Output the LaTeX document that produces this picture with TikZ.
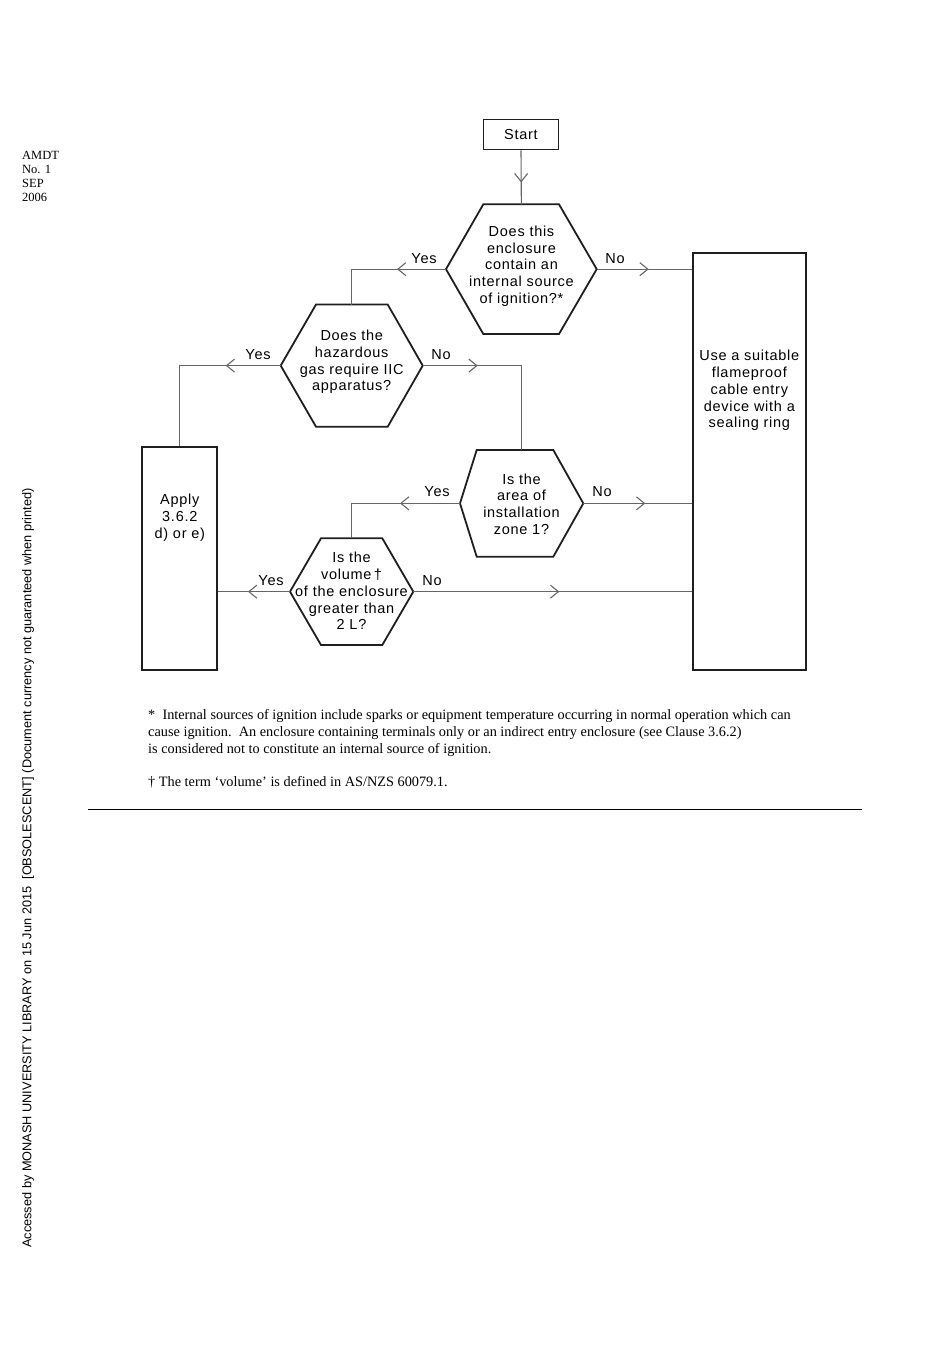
\documentclass[tikz,border=0pt]{standalone}
\usepackage{fontspec}
\setmainfont{Liberation Serif}
\newfontfamily\diagfont[LetterSpace=5]{Liberation Sans}
\newfontfamily\sidefont{Liberation Sans}
\usetikzlibrary{arrows.meta,decorations.markings}

\newcommand\hexshape[7]{%
  \coordinate (#1-w) at (#2,{(#6+#7)/2});
  \coordinate (#1-e) at (#5,{(#6+#7)/2});
  \coordinate (#1-n) at ({(#2+#5)/2},#6);
  \coordinate (#1-s) at ({(#2+#5)/2},#7);
  \draw[shapeline] (#1-w) -- (#3,#6) -- (#4,#6) -- (#1-e) -- (#4,#7) -- (#3,#7) -- cycle;
}

\tikzset{
  shapeline/.style={draw=black!88, line width=1.8pt, line join=miter},
  conn/.style={draw=black!60, line width=1.1pt},
  arrowmark/.style={postaction={decorate}, decoration={markings,
      mark=at position #1 with {\arrow[black!60, line width=1.1pt]{Straight Barb[length=8pt,width=13pt]}}}},
  dtext/.style={align=center, inner sep=0pt, font=\diagfont\fontsize{14.5}{16.75}\selectfont},
  lbl/.style={inner sep=0pt, font=\diagfont\fontsize{14.5}{16.75}\selectfont},
  fnote/.style={inner sep=0pt, anchor=base west, font=\fontsize{14.3}{17}\selectfont},
}

\begin{document}
\begin{tikzpicture}[x=1pt,y=-1pt]
\useasboundingbox (0,0) rectangle (950,1345);

% margin notes
\node[inner sep=0pt, anchor=base west, font=\fontsize{12.5}{14}\selectfont] (amdt1) at (22,159) {AMDT};
\node[inner sep=0pt, anchor=base west, font=\fontsize{12.5}{14}\selectfont] (amdt2) at (22,173) {No. 1};
\node[inner sep=0pt, anchor=base west, font=\fontsize{12.5}{14}\selectfont] (amdt3) at (22,187) {SEP};
\node[inner sep=0pt, anchor=base west, font=\fontsize{12.5}{14}\selectfont] (amdt4) at (22,201) {2006};

\node[rotate=90, inner sep=0pt, font=\sidefont\fontsize{12.75}{14}\selectfont] (side) at (28,868)
  {Accessed by MONASH UNIVERSITY LIBRARY on 15 Jun 2015\ \ [OBSOLESCENT] (Document currency not guaranteed when printed)};

% boxes
\node[shapeline, minimum width=75, minimum height=30, inner sep=0pt] (start) at (521,134.5) {};
\node[dtext] (starttext) at (521,134.5) {Start};
\node[shapeline, minimum width=113.3, minimum height=416.8, inner sep=0pt] (rbox) at (749.3,461.3) {};
\node[dtext] (rboxtext) at (749.3,390.5) {Use a suitable\\flameproof\\cable entry\\device with a\\sealing ring};
\node[shapeline, minimum width=75, minimum height=222.7, inner sep=0pt] (apply) at (179.8,558.6) {};
\node[dtext] (applytext) at (179.8,517.5) {Apply\\3.6.2\\d) or e)};

% hexagons
\hexshape{h1}{446}{483.3}{559}{596.7}{204.3}{334}
\node[dtext] (h1text) at (521.5,266) {Does this\\enclosure\\contain an\\internal source\\of ignition?*};
\hexshape{h2}{280.7}{316}{387.7}{422.7}{304.5}{426.7}
\node[dtext] (h2text) at (351.7,362) {Does the\\hazardous\\gas require IIC\\apparatus?};
\hexshape{h3}{460}{476.7}{553.3}{583.3}{450}{556.7}
\node[dtext] (h3text) at (521.5,504) {Is the\\area of\\installation\\zone 1?};
\hexshape{h4}{290}{321}{382.3}{413.3}{538.3}{645}
\node[dtext] (h4text) at (351.5,591) {Is the\\volume\,†\\of the enclosure\\greater than\\2 L?};

% connectors
\draw[conn, arrowmark=32pt] (start.south) -- (h1-n);
\draw[conn, arrowmark=49pt] (h1-w) -| (h2-n);
\draw[conn, arrowmark=52pt] (h1-e) -- (h1-e -| rbox.west);
\draw[conn, arrowmark=55pt] (h2-w) -| (apply.north);
\draw[conn, arrowmark=55pt] (h2-e) -| (h3-n);
\draw[conn, arrowmark=60pt] (h3-w) -| (h4-n);
\draw[conn, arrowmark=62pt] (h3-e) -- (h3-e -| rbox.west);
\draw[conn, arrowmark=42pt] (h4-w) -- (h4-w -| apply.east);
\draw[conn, arrowmark=146pt] (h4-e) -- (h4-e -| rbox.west);

% branch labels
\node[lbl] (y1) at (424,259) {Yes};
\node[lbl] (n1) at (615,259) {No};
\node[lbl] (y2) at (258,355) {Yes};
\node[lbl] (n2) at (441,355) {No};
\node[lbl] (y3) at (437,492) {Yes};
\node[lbl] (n3) at (602,492) {No};
\node[lbl] (y4) at (271,581) {Yes};
\node[lbl] (n4) at (432,581) {No};

% footnotes
\node[fnote] (fn1) at (148,719) {*\ \ Internal sources of ignition include sparks or equipment temperature occurring in normal operation which can};
\node[fnote] (fn2) at (148,736) {cause ignition.\ \ An enclosure containing terminals only or an indirect entry enclosure (see Clause 3.6.2)};
\node[fnote] (fn3) at (148,753) {is considered not to constitute an internal source of ignition.};
\node[fnote] (fn4) at (148,786) {† The term ‘volume’ is defined in AS/NZS 60079.1.};

\coordinate (ruleL) at (88,809);
\coordinate (ruleR) at (862,809);
\draw[line width=1pt] (ruleL) -- (ruleR);
\end{tikzpicture}
\end{document}
